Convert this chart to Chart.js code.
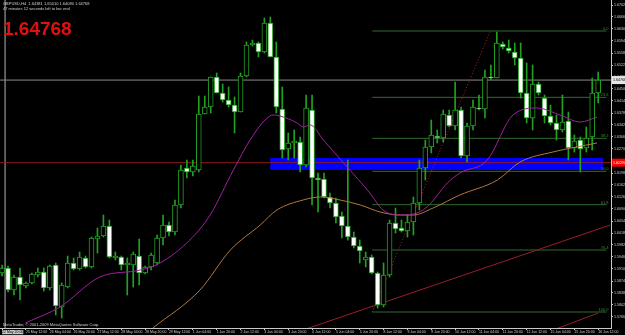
<!DOCTYPE html>
<html>
<head>
<meta charset="utf-8">
<script src="https://cdn.jsdelivr.net/npm/chart.js@4.4.0/dist/chart.umd.min.js"></script>
<style>
html, body { margin: 0; padding: 0; background: #000; overflow: hidden; }
</style>
</head>
<body>
<canvas id="chart" width="625" height="335"></canvas>
<script>
// H4 bars, oldest first (22 May 20:00 .. 16 Jun 12:00)
var opens = [1.5898,1.5913,1.5847,1.5886,1.5859,1.5868,1.5892,1.5901,1.5853,1.5922,
1.5796,1.5856,1.5928,1.5910,1.5943,1.5916,1.6000,1.6009,1.6039,1.5943,
1.5946,1.5922,1.5922,1.5949,1.5898,1.5916,1.5928,1.6003,1.6042,1.6021,
1.6102,1.6213,1.6201,1.6207,1.6375,1.6396,1.6486,1.6438,1.6417,1.6402,
1.6381,1.6489,1.6582,1.6588,1.6561,1.6648,1.6546,1.6390,1.6270,1.6288,
1.6291,1.6222,1.6387,1.6183,1.6180,1.6126,1.6108,1.6069,1.6039,1.6006,
1.5979,1.5937,1.5946,1.5898,1.5802,1.5892,1.6048,1.6033,1.6024,1.6051,
1.6108,1.6213,1.6276,1.6309,1.6303,1.6372,1.6339,1.6387,1.6249,1.6339,
1.6393,1.6390,1.6486,1.6483,1.6585,1.6573,1.6561,1.6543,1.6438,1.6363,
1.6465,1.6423,1.6369,1.6348,1.6327,1.6354,1.6273,1.6297,1.6273,1.6306,
1.6438];
var highs = [1.5922,1.5919,1.5892,1.5913,1.5871,1.5898,1.5913,1.5913,1.5922,1.5928,
1.5868,1.5949,1.5943,1.5961,1.5949,1.6006,1.6033,1.6072,1.6057,1.5961,
1.5949,1.5943,1.5961,1.6000,1.5919,1.5958,1.6012,1.6072,1.6051,1.6117,
1.6222,1.6237,1.6237,1.6429,1.6429,1.6486,1.6498,1.6465,1.6456,1.6426,
1.6498,1.6591,1.6597,1.6591,1.6663,1.6666,1.6591,1.6456,1.6318,1.6327,
1.6306,1.6432,1.6432,1.6198,1.6198,1.6138,1.6123,1.6081,1.6237,1.6021,
1.5997,1.5961,1.5952,1.5901,1.5928,1.6057,1.6093,1.6057,1.6072,1.6126,
1.6237,1.6297,1.6357,1.6327,1.6387,1.6387,1.6471,1.6396,1.6348,1.6417,
1.6432,1.6507,1.6522,1.6621,1.6591,1.6597,1.6588,1.6588,1.6528,1.6522,
1.6471,1.6432,1.6402,1.6372,1.6432,1.6381,1.6312,1.6306,1.6336,1.6483,
1.6501];
var lows = [1.5889,1.5841,1.5832,1.5817,1.5853,1.5865,1.5886,1.5844,1.5847,1.5772,
1.5763,1.5853,1.5907,1.5907,1.5913,1.5913,1.5958,1.6006,1.5943,1.5937,
1.5907,1.5832,1.5856,1.5862,1.5895,1.5907,1.5922,1.5982,1.6009,1.6012,
1.6093,1.6183,1.6189,1.6201,1.6375,1.6378,1.6438,1.6411,1.6396,1.6318,
1.6381,1.6486,1.6579,1.6546,1.6558,1.6546,1.6378,1.6243,1.6237,1.6243,
1.6201,1.6216,1.6102,1.6081,1.6123,1.6093,1.6048,1.6003,1.5997,1.5973,
1.5928,1.5916,1.5895,1.5793,1.5796,1.5886,1.6018,1.6021,1.6006,1.6012,
1.6087,1.6177,1.6258,1.6288,1.6291,1.6336,1.6327,1.6243,1.6231,1.6327,
1.6387,1.6363,1.6477,1.6483,1.6570,1.6558,1.6522,1.6423,1.6348,1.6327,
1.6432,1.6348,1.6342,1.6297,1.6321,1.6237,1.6261,1.6201,1.6261,1.6267,
1.6408];
var closes = [1.5913,1.5847,1.5886,1.5862,1.5868,1.5895,1.5901,1.5853,1.5919,1.5799,
1.5862,1.5928,1.5910,1.5946,1.5916,1.6003,1.6009,1.6039,1.5946,1.5949,
1.5922,1.5928,1.5955,1.5898,1.5916,1.5952,1.6003,1.6042,1.6021,1.6102,
1.6207,1.6201,1.6219,1.6375,1.6396,1.6486,1.6438,1.6417,1.6402,1.6381,
1.6489,1.6582,1.6588,1.6561,1.6648,1.6546,1.6396,1.6267,1.6288,1.6294,
1.6222,1.6393,1.6183,1.6177,1.6126,1.6108,1.6066,1.6039,1.6006,1.5979,
1.5964,1.5946,1.5898,1.5802,1.5892,1.6048,1.6030,1.6024,1.6051,1.6108,
1.6213,1.6276,1.6312,1.6303,1.6375,1.6339,1.6387,1.6249,1.6339,1.6396,
1.6390,1.6486,1.6483,1.6588,1.6576,1.6564,1.6543,1.6438,1.6363,1.6465,
1.6438,1.6369,1.6348,1.6327,1.6351,1.6273,1.6294,1.6270,1.6303,1.6438,
1.64768];

// moving averages, sampled as [bar, price]
var maFast = [[3.9,1.5748],[9.7,1.5796],[16.4,1.5886],[23.2,1.5907],[26.5,1.5928],[31.5,1.5997],
[34.9,1.6072],[38.8,1.6207],[41.6,1.6297],[44.1,1.6357],[45.5,1.6372],[46.6,1.6369],[49.5,1.6348],
[50.5,1.6336],[51.7,1.6342],[53.9,1.6297],[57.9,1.6216],[61.7,1.6138],[63.9,1.6087],[66.8,1.6072],
[69.0,1.6075],[71.3,1.6096],[74.7,1.6168],[76.8,1.6198],[81.4,1.6237],[85.7,1.6372],[89.8,1.6393],
[93.6,1.6372],[97.0,1.6351],[99.8,1.6366]];
var maSlow = [[25.3,1.5733],[33.2,1.5847],[38.3,1.5967],[43.3,1.6042],[46.1,1.6087],[50.5,1.6117],
[53.4,1.6126],[56.7,1.6117],[60.1,1.6102],[63.4,1.6081],[66.8,1.6072],[69.0,1.6072],[72.3,1.6093],
[76.8,1.6132],[83.1,1.6177],[86.9,1.6231],[92.4,1.6261],[99.8,1.6288]];

var timeLabels = ['22 May 20:00','25 May 12:00','26 May 04:00','26 May 20:00','27 May 12:00','28 May 04:00',
'28 May 20:00','29 May 12:00','1 Jun 04:00','1 Jun 20:00','2 Jun 12:00','3 Jun 04:00','3 Jun 20:00',
'4 Jun 12:00','5 Jun 04:00','5 Jun 20:00','8 Jun 12:00','9 Jun 04:00','9 Jun 20:00','10 Jun 12:00',
'11 Jun 04:00','11 Jun 20:00','12 Jun 12:00','15 Jun 04:00','15 Jun 20:00','16 Jun 12:00'];
var priceTicks = [1.6702,1.6666,1.6630,1.6594,1.6558,1.6522,1.6486,1.6450,1.6414,1.6378,1.6342,
1.6306,1.6270,1.6234,1.6198,1.6162,1.6126,1.6090,1.6054,1.6018,1.5982,1.5946,1.5910,1.5874,
1.5838,1.5802,1.5766];

// objects on the chart
var bidPrice = 1.64768;
var supportPrice = 1.6229;
var zoneTop = 1.6243, zoneBottom = 1.6207, zoneFrom = 44.97, zoneTo = 100.8;
var fibNames = ['0.0','23.6','38.2','50.0','61.8','76.4','100.0'];
var fibPrices = [1.6624,1.6425,1.6302,1.6203,1.6103,1.5967,1.5781];
var fibFrom = 62.1, fibTo = 101.4;
var trend1 = [[50.0,1.5724],[102.0,1.6042]];
var trend2 = [[91.1,1.5718],[100.0,1.5778]];

var GREEN = '#22a022';
var FONT = 'Liberation Sans';

function pts(list){ return list.map(function(p){ return {x:p[0], y:p[1]}; }); }
function hline(price, a, b){ return [{x:a, y:price},{x:b, y:price}]; }

var datasets = [];

datasets.push({ type:'line', data: hline(zoneTop, zoneFrom, zoneTo), borderWidth:0, pointRadius:0,
  backgroundColor:'#0000ff', fill:{value: zoneBottom}, order:20 });
datasets.push({ type:'line', data: hline(supportPrice, -1, 103), borderColor:'#8c1c1c', borderWidth:1, pointRadius:0, order:19 });
datasets.push({ type:'line', data: hline(bidPrice, -1, 103), borderColor:'#8a8a8a', borderWidth:1, pointRadius:0, order:19 });
datasets.push({ type:'line', data: [{x:0.5,y:1.5}, {x:0.5,y:1.8}], borderColor:'#b4b4b4', borderWidth:1, pointRadius:0, order:19 });
fibPrices.forEach(function(p){
  datasets.push({ type:'line', data: hline(p, fibFrom, fibTo), borderColor:'#2f6a2f', borderWidth:1, pointRadius:0, order:18 });
});
datasets.push({ type:'line', data: [{x:fibFrom, y:fibPrices[6]},{x:81.9, y:fibPrices[0]}], borderColor:'#b02020',
  borderWidth:1, borderDash:[1,2], pointRadius:0, order:18 });
datasets.push({ type:'line', data: pts(trend1), borderColor:'#9a1e2a', borderWidth:1, pointRadius:0, order:17 });
datasets.push({ type:'line', data: pts(trend2), borderColor:'#9a1e2a', borderWidth:1, pointRadius:0, order:17 });

// candles: wicks first, bodies on top
datasets.push({ data: lows.map(function(l, i){ return {x:i, y:[l, highs[i]]}; }),
  backgroundColor: GREEN, borderWidth:0, barThickness:1, grouped:false, order:6 });
datasets.push({ data: opens.map(function(o, i){ return {x:i, y:[o, closes[i]]}; }),
  backgroundColor: opens.map(function(o, i){ return closes[i] >= o ? '#000000' : '#ffffff'; }),
  borderColor: GREEN, borderWidth:1, borderSkipped:false, barThickness:5, minBarLength:1, grouped:false, order:5 });

datasets.push({ type:'line', data: pts(maFast), borderColor:'#a020a0', borderWidth:1, pointRadius:0,
  cubicInterpolationMode:'monotone', order:2 });
datasets.push({ type:'line', data: pts(maSlow), borderColor:'#b07840', borderWidth:1, pointRadius:0,
  cubicInterpolationMode:'monotone', order:2 });

var overlay = {
  id: 'overlay',
  afterDraw: function(chart){
    var c = chart.ctx, ys = chart.scales.y, xs = chart.scales.x;
    var right = chart.chartArea.right;
    c.save();
    c.textBaseline = 'alphabetic';
    c.textAlign = 'left';
    c.fillStyle = '#d0d0d0';
    c.font = '4px "' + FONT + '"';
    c.fillText('GBPUSD,H4  1.64381 1.65010 1.64080 1.64768', 3, 5);
    c.fillText('47 minutes 12 seconds left to bar end', 3, 10);
    c.fillText('MetaTrader, \u00a9 2001-2009 MetaQuotes Software Corp.', 3, 326);
    c.fillStyle = '#e01010';
    c.font = 'bold 19px "' + FONT + '"';
    c.fillText(bidPrice.toFixed(5), 3, 35);

    // fibo level captions
    c.font = '4px "' + FONT + '"';
    c.textAlign = 'right';
    c.fillStyle = '#3a8a3a';
    fibNames.forEach(function(n, k){
      c.fillText(n, xs.getPixelForValue(fibTo) + 2, ys.getPixelForValue(fibPrices[k]) - 1);
    });

    // price boxes on the scale
    c.textAlign = 'left';
    c.textBaseline = 'middle';
    c.font = '3.6px "' + FONT + '"';
    var yb = ys.getPixelForValue(bidPrice);
    c.fillStyle = '#e6e6e6';
    c.fillRect(right + 1, yb - 4, 16, 8);
    c.fillStyle = '#000000';
    c.fillText(bidPrice.toFixed(5), right + 2, yb);
    var yr = ys.getPixelForValue(supportPrice);
    c.fillStyle = '#ff0000';
    c.fillRect(right + 1, yr - 4, 16, 8);
    c.fillStyle = '#ffffff';
    c.fillText(supportPrice.toFixed(5), right + 2, yr);
    c.restore();
  }
};

new Chart(document.getElementById('chart'), {
  type: 'bar',
  data: { datasets: datasets },
  options: {
    responsive: false,
    animation: false,
    layout: { padding: 0, autoPadding: false },
    plugins: { legend: { display: false }, tooltip: { enabled: false } },
    scales: {
      x: {
        type: 'linear', min: -0.35, max: 102.15, position: 'bottom', offset: false,
        grid: { drawOnChartArea: false, tickLength: 2, color: '#c8c8c8', offset: false },
        border: { color: '#c8c8c8' },
        ticks: {
          autoSkip: false, maxRotation: 0, minRotation: 0, align: 'start', padding: 0,
          font: { family: FONT, size: 3.5 },
          color: function(ctx){ return ctx.index === 0 ? '#000000' : '#d0d0d0'; },
          showLabelBackdrop: function(ctx){ return ctx.index === 0; },
          backdropColor: '#c8c8c8', backdropPadding: 0,
          callback: function(v){ return timeLabels[Math.round(v / 4)]; }
        },
        afterBuildTicks: function(s){ s.ticks = timeLabels.map(function(t, k){ return { value: k * 4 }; }); },
        afterFit: function(s){ s.height = 7; s.paddingLeft = 0; s.paddingRight = 0; }
      },
      y: {
        position: 'right', min: 1.5733, max: 1.6717,
        grid: { drawOnChartArea: false, tickLength: 2, color: '#c8c8c8' },
        border: { color: '#c8c8c8' },
        ticks: {
          padding: 1, color: '#d0d0d0', font: { family: FONT, size: 3.6 },
          callback: function(v){ return v.toFixed(5); }
        },
        afterBuildTicks: function(s){ s.ticks = priceTicks.map(function(v){ return { value: v }; }); },
        afterFit: function(s){ s.width = 14; s.paddingTop = 0; s.paddingBottom = 0; }
      }
    }
  },
  plugins: [overlay]
});
</script>
</body>
</html>
